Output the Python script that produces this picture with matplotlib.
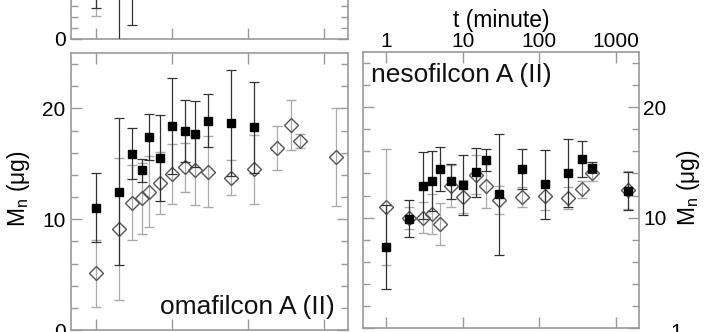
import matplotlib
matplotlib.use('Agg')
import matplotlib.pyplot as plt
from matplotlib.ticker import MultipleLocator, FixedLocator, NullLocator, FuncFormatter

plt.rcParams['font.family'] = ['Liberation Sans', 'DejaVu Sans']
plt.rcParams['mathtext.fontset'] = 'custom'
plt.rcParams['mathtext.rm'] = 'Liberation Sans'

# upper panel (only its lower edge is inside the figure)
top_sq_t = [1, 2, 3]
top_sq_m = [5.2, 7.5, 6.3]
top_sq_e = [2.4, 8.1, 5.0]
top_di_t = [1]
top_di_m = [4.6]
top_di_e = [2.5]

# omafilcon A (II)
oma_sq_t = [1, 2, 3, 4, 5, 7, 10, 15, 20, 30, 60, 120]
oma_sq_m = [11.05, 12.5, 15.9, 14.4, 17.4, 15.5, 18.4, 18.0, 17.7, 18.9, 18.7, 18.3]
oma_sq_e = [3.1, 6.6, 2.3, 1.0, 2.1, 3.9, 4.3, 2.8, 3.0, 2.4, 4.8, 4.1]
oma_di_t = [1, 2, 3, 4, 5, 7, 10, 15, 20, 30, 60, 120, 240, 360, 480, 1440]
oma_di_m = [5.1, 9.1, 11.5, 11.9, 12.5, 13.3, 14.1, 14.7, 14.4, 14.3, 13.75, 14.5,
            16.4, 18.5, 17.05, 15.6]
oma_di_e = [3.0, 6.4, 3.35, 3.2, 3.2, 2.8, 2.7, 2.2, 3.1, 3.2, 1.6, 3.1,
            2.0, 2.25, 0.65, 4.45]

# nesofilcon A (II)
neso_t = [1, 2, 3, 4, 5, 7, 10, 15, 20, 30, 60, 120, 240, 360, 480, 1440]
neso_sq_m = [7.3, 9.9, 12.9, 13.3, 14.4, 13.3, 12.95, 14.1, 15.2, 12.1, 14.4, 13.0,
             14.06, 15.3, 14.5, 12.4]
neso_sq_e = [3.8, 1.7, 3.0, 2.7, 2.0, 1.6, 2.7, 2.2, 1.0, 5.5, 1.85, 3.1,
             3.1, 1.6, 0.5, 1.7]
neso_di_m = [11.0, 10.0, 10.0, 10.3, 9.45, 12.9, 11.9, 13.9, 12.9, 11.6, 11.9, 12.0,
             11.8, 12.55, 14.06, 12.5]
neso_di_e = [5.25, 1.0, 1.4, 1.8, 1.9, 1.9, 1.5, 1.8, 2.0, 1.3, 0.9, 1.3,
             1.0, 0.8, 0.7, 1.7]

FRAME = '#999999'
TICK_FS = 15
LABEL_FS = 16.5


def style(ax, xlim, ystep=2):
    ax.set_xscale('log')
    ax.set_xlim(*xlim)
    ax.set_ylim(0, 25)
    ax.xaxis.set_major_locator(FixedLocator([1, 10, 100, 1000]))
    ax.xaxis.set_minor_locator(NullLocator())
    ax.yaxis.set_major_locator(MultipleLocator(10))
    ax.yaxis.set_minor_locator(MultipleLocator(ystep))
    ax.tick_params(which='both', direction='in', top=True, bottom=True,
                   left=True, right=True, color=FRAME, width=1.0,
                   labelsize=TICK_FS, labelbottom=False, labeltop=False)
    ax.tick_params(which='major', length=8)
    ax.tick_params(which='minor', length=5)
    for s in ax.spines.values():
        s.set_color(FRAME)
        s.set_linewidth(1.2)


def draw(ax, sq_t, sq_m, sq_e, di_t, di_m, di_e):
    ax.errorbar(di_t, di_m, yerr=di_e, fmt='D', ms=7.5, mfc='none', mec='#555555',
                mew=1.0, ecolor='#aaaaaa', elinewidth=0.9, capsize=3.5, capthick=0.9,
                zorder=3)
    ax.errorbar(sq_t, sq_m, yerr=sq_e, fmt='s', ms=6.3, mfc='black', mec='black',
                ecolor='#333333', elinewidth=0.9, capsize=3.5, capthick=0.9,
                zorder=4)


fig = plt.figure(figsize=(7.05, 3.32), dpi=100)
W, H = 705.0, 332.0

ax_top = fig.add_axes([71 / W, 1 - 39 / H, 277 / W, 277 / H])
ax_oma = fig.add_axes([71 / W, 1 - 330 / H, 277 / W, 277 / H])
ax_neso = fig.add_axes([363 / W, 1 - 328 / H, 276 / W, 276 / H])

style(ax_top, (0.47, 2050), ystep=1)
draw(ax_top, top_sq_t, top_sq_m, top_sq_e, top_di_t, top_di_m, top_di_e)
ax_top.yaxis.set_major_locator(FixedLocator([0]))
ax_top.tick_params(axis='y', pad=4)

style(ax_oma, (0.47, 2050))
draw(ax_oma, oma_sq_t, oma_sq_m, oma_sq_e, oma_di_t, oma_di_m, oma_di_e)
ax_oma.tick_params(axis='y', pad=4)
ax_oma.set_ylabel(r'M$_\mathregular{n}$ (μg)', fontsize=LABEL_FS)
ax_oma.yaxis.set_label_coords(-0.14, 0.51)
ax_oma.text(0.953, 0.04, 'omafilcon A (II)', transform=ax_oma.transAxes,
            ha='right', va='bottom', fontsize=19, color='#111111')

style(ax_neso, (0.5, 2000))
draw(ax_neso, neso_t, neso_sq_m, neso_sq_e, neso_t, neso_di_m, neso_di_e)
ax_neso.tick_params(axis='y', labelleft=False, labelright=True, pad=3)
ax_neso.tick_params(axis='x', labeltop=True, pad=1)
ax_neso.yaxis.set_major_formatter(FuncFormatter(lambda v, p: '' if v == 0 else f'{v:g}'))
ax_neso.xaxis.set_label_position('top')
ax_neso.set_xlabel('t (minute)', fontsize=LABEL_FS, labelpad=3)
ax_neso.yaxis.set_label_position('right')
ax_neso.set_ylabel(r'M$_\mathregular{n}$ (μg)', fontsize=LABEL_FS)
ax_neso.yaxis.set_label_coords(1.13, 0.51)
ax_neso.set_xticklabels(['1', '10', '100', '1000'])
ax_neso.text(0.03, 0.96, 'nesofilcon A (II)', transform=ax_neso.transAxes,
             ha='left', va='top', fontsize=19, color='#111111')

fig.text(676 / W, 1 - 323 / H, '1', ha='center', va='top', fontsize=TICK_FS)

fig.savefig('out.png', dpi=100)
